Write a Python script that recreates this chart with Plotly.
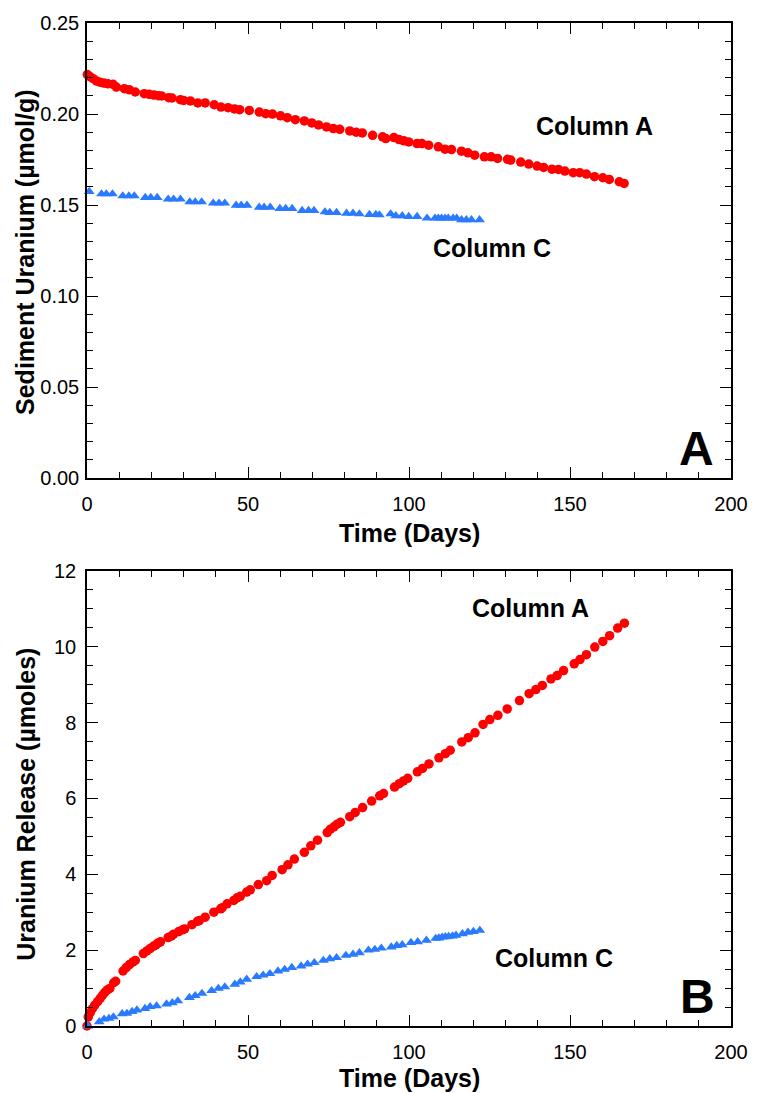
import plotly.graph_objects as go

# ---------------- data ----------------
# Panel A: sediment uranium (umol/g) vs time (days)
a_sed_t = [0.1, 0.9, 1.9, 3.0, 4.0, 5.2, 6.5, 8.1, 9.1, 11.6, 13.2, 15.0, 17.8, 19.3, 20.8,
           22.2, 23.2, 25.4, 26.4, 29.0, 30.0, 32.1, 34.4, 36.7, 39.5, 41.6, 43.8, 45.8, 47.4,
           50.4, 53.5, 55.5, 57.6, 60.1, 62.2, 64.7, 67.5, 69.8, 71.9, 74.4, 76.5, 78.5, 81.6,
           83.6, 85.5, 88.7, 91.8, 92.8, 95.3, 96.9, 98.4, 99.9, 102.5, 104.0, 106.1, 109.1,
           111.2, 113.2, 116.3, 118.3, 120.4, 123.4, 125.5, 127.5, 130.6, 131.6, 134.7, 137.2,
           139.8, 141.8, 144.4, 146.4, 148.4, 151.0, 153.0, 155.1, 157.6, 160.2, 162.2, 165.3,
           166.8]
a_sed_v = [0.2217, 0.2206, 0.2194, 0.2181, 0.2175, 0.2170, 0.2166, 0.2163, 0.2148, 0.2139,
           0.2133, 0.2121, 0.2112, 0.2108, 0.2104, 0.2101, 0.2099, 0.2090, 0.2088, 0.2079,
           0.2075, 0.2072, 0.2061, 0.2061, 0.2051, 0.2038, 0.2035, 0.2028, 0.2024, 0.2020,
           0.2011, 0.2002, 0.2000, 0.1990, 0.1980, 0.1969, 0.1962, 0.1951, 0.1940, 0.1929,
           0.1920, 0.1916, 0.1907, 0.1900, 0.1896, 0.1883, 0.1875, 0.1865, 0.1871, 0.1860,
           0.1853, 0.1847, 0.1838, 0.1838, 0.1829, 0.1820, 0.1807, 0.1805, 0.1796, 0.1787,
           0.1774, 0.1765, 0.1765, 0.1756, 0.1751, 0.1747, 0.1736, 0.1725, 0.1714, 0.1707,
           0.1697, 0.1696, 0.1687, 0.1678, 0.1678, 0.1670, 0.1656, 0.1650, 0.1641, 0.1628,
           0.1619]

c_sed_t = [0.7, 4.5, 6.0, 7.9, 11.1, 13.0, 14.7, 18.1, 19.8, 21.8, 25.2, 26.9, 29.0, 31.9,
           33.6, 35.6, 39.2, 41.0, 42.8, 46.3, 47.9, 49.7, 53.5, 55.0, 56.9, 59.9, 61.7, 63.7,
           66.8, 68.8, 70.5, 73.9, 75.4, 77.5, 80.6, 82.6, 84.6, 87.7, 89.7, 90.8, 94.3, 95.9,
           97.9, 99.9, 102.5, 105.6, 108.1, 109.1, 110.1, 111.2, 112.2, 113.7, 114.8, 116.3,
           117.8, 119.4, 121.9]
c_sed_v = [0.1574, 0.1561, 0.1561, 0.1561, 0.1550, 0.1550, 0.1550, 0.1541, 0.1541, 0.1541,
           0.1532, 0.1532, 0.1532, 0.1517, 0.1517, 0.1517, 0.1510, 0.1510, 0.1510, 0.1499,
           0.1499, 0.1499, 0.1488, 0.1488, 0.1488, 0.1481, 0.1481, 0.1481, 0.1470, 0.1470,
           0.1470, 0.1462, 0.1459, 0.1459, 0.1455, 0.1455, 0.1451, 0.1448, 0.1448, 0.1446,
           0.1451, 0.1441, 0.1441, 0.1437, 0.1437, 0.1428, 0.1428, 0.1428, 0.1428, 0.1428,
           0.1428, 0.1428, 0.1428, 0.1419, 0.1419, 0.1419, 0.1419]

# Panel B: cumulative uranium release (umoles) vs time (days)
a_rel_t = [0.0, 0.4, 1.0, 1.7, 2.4, 3.3, 4.1, 4.8, 5.5, 6.3, 7.1, 8.3, 8.9, 11.2, 12.2, 13.2,
           14.3, 15.0, 17.5, 18.6, 19.6, 20.6, 21.4, 22.1, 22.8, 25.2, 26.2, 26.9, 28.5, 29.8,
           30.3, 32.6, 34.3, 34.9, 36.7, 39.4, 41.5, 42.0, 43.5, 45.6, 46.6, 47.6, 49.6, 50.7,
           53.2, 55.8, 57.5, 60.6, 62.4, 64.4, 67.5, 69.5, 71.6, 74.6, 75.6, 76.7, 77.7, 78.7,
           81.6, 83.3, 85.6, 88.4, 90.9, 92.1, 95.5, 97.0, 98.3, 99.6, 102.6, 104.2, 106.2,
           109.3, 111.3, 112.8, 116.4, 118.4, 120.5, 123.0, 125.1, 127.6, 130.5, 134.3, 137.3,
           139.4, 141.4, 144.1, 146.0, 148.0, 151.3, 153.1, 155.1, 157.7, 160.2, 162.3, 164.8,
           166.9]
a_rel_v = [0.00, 0.24, 0.35, 0.46, 0.55, 0.64, 0.73, 0.81, 0.88, 0.95, 0.99, 1.14, 1.18, 1.45,
           1.54, 1.62, 1.69, 1.73, 1.91, 1.98, 2.04, 2.10, 2.14, 2.19, 2.22, 2.33, 2.37, 2.42,
           2.49, 2.54, 2.56, 2.67, 2.76, 2.78, 2.87, 3.00, 3.09, 3.12, 3.22, 3.31, 3.38, 3.42,
           3.53, 3.59, 3.73, 3.83, 3.97, 4.12, 4.25, 4.40, 4.58, 4.75, 4.90, 5.10, 5.19, 5.25,
           5.32, 5.37, 5.52, 5.63, 5.76, 5.93, 6.07, 6.13, 6.30, 6.39, 6.46, 6.53, 6.70, 6.79,
           6.91, 7.07, 7.18, 7.27, 7.49, 7.60, 7.73, 7.95, 8.08, 8.19, 8.36, 8.58, 8.76, 8.87,
           8.98, 9.15, 9.24, 9.37, 9.55, 9.66, 9.79, 9.99, 10.14, 10.29, 10.49, 10.62]

c_rel_t = [0.2, 3.8, 5.3, 6.8, 8.2, 10.9, 12.4, 14.0, 15.5, 18.0, 19.6, 21.6, 24.7, 26.5, 28.2,
           31.8, 33.6, 35.7, 38.7, 40.8, 42.8, 45.9, 47.6, 49.6, 52.7, 54.7, 56.8, 59.3, 61.4,
           63.6, 66.5, 68.5, 70.6, 73.4, 75.4, 77.5, 80.4, 82.6, 84.6, 87.4, 89.4, 91.4, 94.5,
           96.2, 97.9, 100.6, 102.7, 105.4, 108.3, 109.3, 110.3, 111.3, 112.3, 113.5, 114.6,
           116.6, 118.3, 120.0, 122.0]
c_rel_v = [0.00, 0.11, 0.18, 0.20, 0.24, 0.32, 0.33, 0.38, 0.42, 0.46, 0.51, 0.53, 0.58, 0.61,
           0.66, 0.75, 0.80, 0.86, 0.93, 0.99, 1.03, 1.10, 1.16, 1.23, 1.30, 1.34, 1.38, 1.45,
           1.49, 1.54, 1.58, 1.63, 1.67, 1.73, 1.77, 1.80, 1.86, 1.89, 1.93, 2.00, 2.02, 2.05,
           2.08, 2.12, 2.14, 2.20, 2.22, 2.26, 2.31, 2.32, 2.34, 2.35, 2.36, 2.37, 2.39, 2.43,
           2.47, 2.49, 2.52]

x_title = "Time (Days)"
y_title_top = "Sediment Uranium (µmol/g)"
y_title_bot = "Uranium Release (µmoles)"

# ---------------- style ----------------
RED = "#FF0000"
BLUE = "#2A7AFF"
FONT = "Arial, 'Liberation Sans', sans-serif"

fig = go.Figure()
fig.add_trace(go.Scatter(x=a_sed_t, y=a_sed_v, mode="markers", xaxis="x", yaxis="y",
                         marker=dict(symbol="circle", size=9.5, color=RED), cliponaxis=False))
fig.add_trace(go.Scatter(x=c_sed_t, y=c_sed_v, mode="markers", xaxis="x", yaxis="y",
                         marker=dict(symbol="triangle-up", size=9.5, color=BLUE), cliponaxis=False))
fig.add_trace(go.Scatter(x=a_rel_t, y=a_rel_v, mode="markers", xaxis="x2", yaxis="y2",
                         marker=dict(symbol="circle", size=9.5, color=RED), cliponaxis=False))
fig.add_trace(go.Scatter(x=c_rel_t, y=c_rel_v, mode="markers", xaxis="x2", yaxis="y2",
                         marker=dict(symbol="triangle-up", size=9.5, color=BLUE), cliponaxis=False))

common_axis = dict(
    showline=True, linecolor="black", linewidth=1.5, mirror="allticks",
    ticks="inside", ticklen=11, tickwidth=1.3, tickcolor="black",
    showgrid=False, zeroline=False,
    tickfont=dict(family=FONT, size=20, color="black"),
)

xa = dict(common_axis, range=[0, 200], tick0=0, dtick=50,
          minor=dict(dtick=10, ticks="inside", ticklen=6, tickwidth=1.3, tickcolor="black", showgrid=False),
          ticklabelstandoff=7)

fig.update_layout(
    width=760, height=1093,
    margin=dict(l=87, r=20, t=19, b=67),
    paper_bgcolor="white", plot_bgcolor="white",
    showlegend=False,
    font=dict(family=FONT, color="black"),
    xaxis=dict(xa, domain=[0, 1], anchor="y"),
    yaxis=dict(common_axis, domain=[0.5462, 1.0], anchor="x", range=[0, 0.25], tick0=0, dtick=0.05,
               tickformat=".2f",
               minor=dict(dtick=0.01, ticks="inside", ticklen=6, tickwidth=1.3, tickcolor="black", showgrid=False),
               ticklabelstandoff=2),
    xaxis2=dict(xa, domain=[0, 1], anchor="y2"),
    yaxis2=dict(common_axis, domain=[0.0, 0.4538], anchor="x2", range=[0, 12], tick0=0, dtick=2,
                minor=dict(dtick=0.5, ticks="inside", ticklen=6, tickwidth=1.3, tickcolor="black", showgrid=False),
                ticklabelstandoff=5),
)

bold = dict(family=FONT, size=25, color="black")
big = dict(family=FONT, size=48, color="black")
ann = [
    # series labels
    dict(text="<b>Column A</b>", x=157.5, y=0.1935, xref="x", yref="y", font=bold),
    dict(text="<b>Column C</b>", x=125.8, y=0.1265, xref="x", yref="y", font=bold),
    dict(text="<b>A</b>", x=189.4, y=0.0164, xref="x", yref="y", font=big),
    dict(text="<b>Column A</b>", x=137.7, y=11.01, xref="x2", yref="y2", font=bold),
    dict(text="<b>Column C</b>", x=144.9, y=1.80, xref="x2", yref="y2", font=bold),
    dict(text="<b>B</b>", x=189.7, y=0.77, xref="x2", yref="y2", font=big),
    # axis titles
    dict(text="<b>" + x_title + "</b>", x=0.5, y=(1026 - 531) / 1007, xref="paper", yref="paper", font=bold),
    dict(text="<b>" + x_title + "</b>", x=0.5, y=(1026 - 1078) / 1007, xref="paper", yref="paper", font=bold),
    dict(text="<b>" + y_title_top + "</b>", x=(24 - 87) / 653, y=(1026 - 249) / 1007, xref="paper",
         yref="paper", textangle=-90, font=bold),
    dict(text="<b>" + y_title_bot + "</b>", x=(25 - 87) / 653, y=(1026 - 803) / 1007, xref="paper",
         yref="paper", textangle=-90, font=bold),
]
for a in ann:
    a.update(showarrow=False, xanchor="center", yanchor="middle")
fig.update_layout(annotations=ann)

fig.write_html("out.html")
